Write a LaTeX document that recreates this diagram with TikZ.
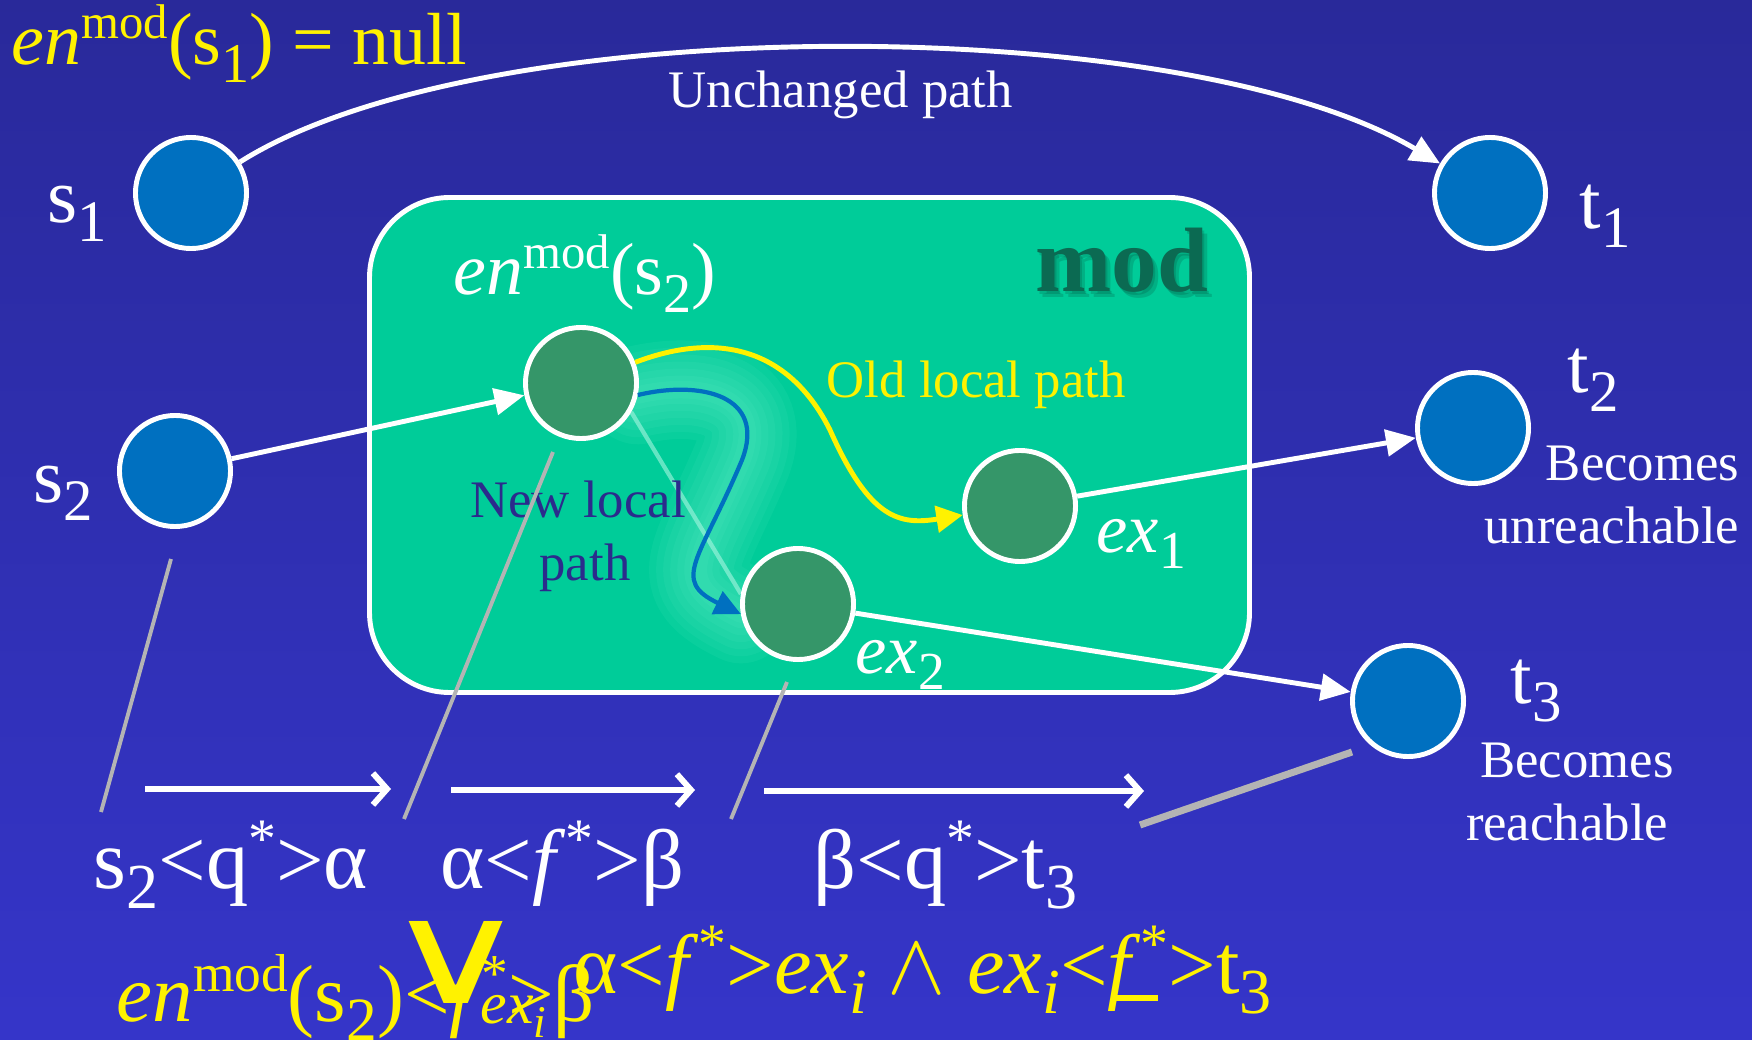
\documentclass[tikz,border=0pt]{standalone}
\usepackage{fontspec}
\setmainfont{Liberation Serif}
\newfontfamily\symfont{DejaVu Sans}
\usepackage{tikz}
\usepackage{xcolor}
\usetikzlibrary{arrows.meta,positioning,backgrounds}

\definecolor{bgtop}{HTML}{29299A}
\definecolor{bgbot}{HTML}{3535C9}
\definecolor{modfill}{HTML}{00CC99}
\definecolor{nodeblue}{HTML}{0070C0}
\definecolor{nodegreen}{HTML}{359669}
\definecolor{modtext}{HTML}{0B6A52}
\definecolor{newtext}{HTML}{2B2B8C}
\definecolor{glowgreen}{HTML}{6AF0CC}
\definecolor{guidegray}{HTML}{B4B4B4}

\newcommand{\fsz}[1]{\fontsize{#1}{#1}\selectfont}
\newcommand{\dn}[1]{\raisebox{-0.24em}{\scalebox{0.76}{#1}}}
\newcommand{\up}[1]{\raisebox{0.36em}{\scalebox{0.66}{#1}}}

\begin{document}
\begin{tikzpicture}[x=0.01cm, y=-0.01cm,
  outer/.style={circle, draw=white, line width=1.4pt, fill=nodeblue, minimum size=1.11cm, inner sep=0pt},
  inner/.style={outer, fill=nodegreen},
  lbl/.style={inner sep=0pt, anchor=base west, text=white},
  big/.style={lbl, font=\fsz{22}},
  note/.style={lbl, font=\fsz{15}},
  edge/.style={draw=white, line width=1.4pt, -{Triangle[length=8.5pt,width=7.5pt]}},
  flow/.style={draw=white, line width=1.7pt, -{Straight Barb[length=4pt,width=9pt]}},
  guide/.style={draw=guidegray, line width=1.1pt},
  oldroute/.style={draw=yellow, line width=1.4pt, -{Triangle[length=7.5pt,width=7.5pt]}},
  newroute/.style={draw=nodeblue, line width=1.2pt, -{Triangle[length=7.5pt,width=7pt]}},
  glow/.style={draw=glowgreen, opacity=0.09, line cap=round}
]
\useasboundingbox (0,0) rectangle (1752,1040);

\node[outer] (s1) at (191,193) {};
\node[outer] (t1) at (1490,193) {};
\node[outer] (s2) at (175,471) {};
\node[outer] (t2) at (1473,428) {};
\node[outer] (t3) at (1408,701) {};
\node[inner] (en) at (581,383) {};
\node[inner] (ex1) at (1020,506) {};
\node[inner] (ex2) at (798,604) {};

\begin{scope}[on background layer]
  \fill[top color=bgtop, bottom color=bgbot] (0,0) rectangle (1752,1040);
  \draw[white, line width=1.4pt, fill=modfill, rounded corners=0.8cm] (369.5,197.5) rectangle (1249.5,692.5);
  \foreach \w in {28,24,20,16,12,8,5}
    \draw[glow, line width=\w pt] (en.-12) .. controls (700,380) and (767,395) .. (742,460)
      .. controls (700,560) and (670,580) .. (ex2.190);
  \draw[draw=glowgreen!60!white, line width=1.2pt, opacity=0.6] (en.-30) -- (ex2.170);
\end{scope}

% paths
\draw[edge] (s1) .. controls (480,10) and (1180,10) .. (t1);
\draw[edge] (s2) -- (en);
\draw[edge] (ex1) -- (t2);
\draw[edge] (ex2) -- (t3);
\draw[oldroute] (en) .. controls (720,330) and (790,350) .. (830,430)
  .. controls (870,520) and (900,525) .. (ex1);
\draw[newroute] (en.-12) .. controls (700,380) and (767,395) .. (742,460)
  .. controls (700,560) and (670,580) .. (ex2.190);

% labels
\node[lbl, text=yellow, font=\fsz{21}] (nulltxt) at (11,65) {\textit{en}\up{mod}(s\dn{1}) = null};
\node[note] (unch) at (668,108) {Unchanged path};
\node[big] (s1lab) at (47,223) {s\dn{1}};
\node[big] (t1lab) at (1579,229) {t\dn{1}};
\node[big] (s2lab) at (33,502) {s\dn{2}};
\node[big] (t2lab) at (1567,393) {t\dn{2}};
\node[big] (t3lab) at (1510,703) {t\dn{3}};
\node[note, anchor=base east] (unr1) at (1740,480) {Becomes};
\node[note, anchor=base east] (unr2) at (1740,543) {unreachable};
\node[note, anchor=base] (rea1) at (1577,777) {Becomes};
\node[note, anchor=base] (rea2) at (1567,840) {reachable};

\node[lbl, text=modtext!50!black, opacity=0.18, font=\fsz{26}\bfseries] (modshade1) at (1040,298) {mod};
\node[lbl, text=modtext!50!black, opacity=0.18, font=\fsz{26}\bfseries] (modshade2) at (1037,295) {mod};
\node[lbl, text=modtext, font=\fsz{26}\bfseries] (modlab) at (1035,292) {mod};
\node[lbl, font=\fsz{21}] (enlab) at (453,295) {\textit{en}\up{mod}(s\dn{2})};
\node[note, text=yellow] (oldlab) at (826,398) {Old local path};
\node[note, anchor=base, text=newtext] (new1) at (578,517) {New local};
\node[note, anchor=base, text=newtext] (new2) at (585,580) {path};
\node[lbl, font=\fsz{20}] (ex1lab) at (1096,552) {\textit{ex}\dn{1}};
\node[lbl, font=\fsz{20}] (ex2lab) at (855,673) {\textit{ex}\dn{2}};

% bottom row
\node[lbl, font=\fsz{24}] (w1) at (93,888) {s\dn{2}<q\up{*}>α};
\node[lbl, font=\fsz{24}] (w2) at (440,888) {α<\textit{f}\up{*}>β};
\node[lbl, font=\fsz{24}] (w3) at (813,888) {β<q\up{*}>t\dn{3}};
\coordinate (a1) at (145,789); \coordinate (a2) at (391,789);
\coordinate (b1) at (451,790); \coordinate (b2) at (695,790);
\coordinate (c1) at (764,791); \coordinate (c2) at (1144,791);
\draw[flow] (a1) -- (a2);
\draw[flow] (b1) -- (b2);
\draw[flow] (c1) -- (c2);

\node[lbl, text=yellow, font=\fsz{23}] (ya) at (116,1021) {\textit{en}\up{mod}(s\dn{2})<\textit{f}\up{*}>β};
\node[inner sep=0pt, text=yellow] (vee) at (456,962) {\resizebox{1.45cm}{0.82cm}{\symfont ∨}};
\node[lbl, text=yellow, font=\fsz{17}] (exi) at (480,1023) {\textit{ex}\dn{\textit{i}}};
\node[lbl, text=yellow, font=\fsz{24}] (yb) at (573,993) {α<\textit{f}\up{*}>\textit{ex}\dn{\textit{i}} $\wedge$ \textit{ex}\dn{\textit{i}}<\textit{f}\rlap{\kern-0.3em\rule[-0.09em]{0.5em}{0.07em}}\up{*}>t\dn{3}};

% guides
\coordinate (g1) at (171,559); \coordinate (g2) at (101,812);
\coordinate (g3) at (553,452); \coordinate (g4) at (404,819);
\coordinate (g5) at (787,682); \coordinate (g6) at (731,819);
\coordinate (g7) at (1352,752); \coordinate (g8) at (1140,825);
\draw[guide] (g1) -- (g2);
\draw[guide] (g3) -- (g4);
\draw[guide] (g5) -- (g6);
\draw[guide, line width=2pt] (g7) -- (g8);
\end{tikzpicture}
\end{document}
